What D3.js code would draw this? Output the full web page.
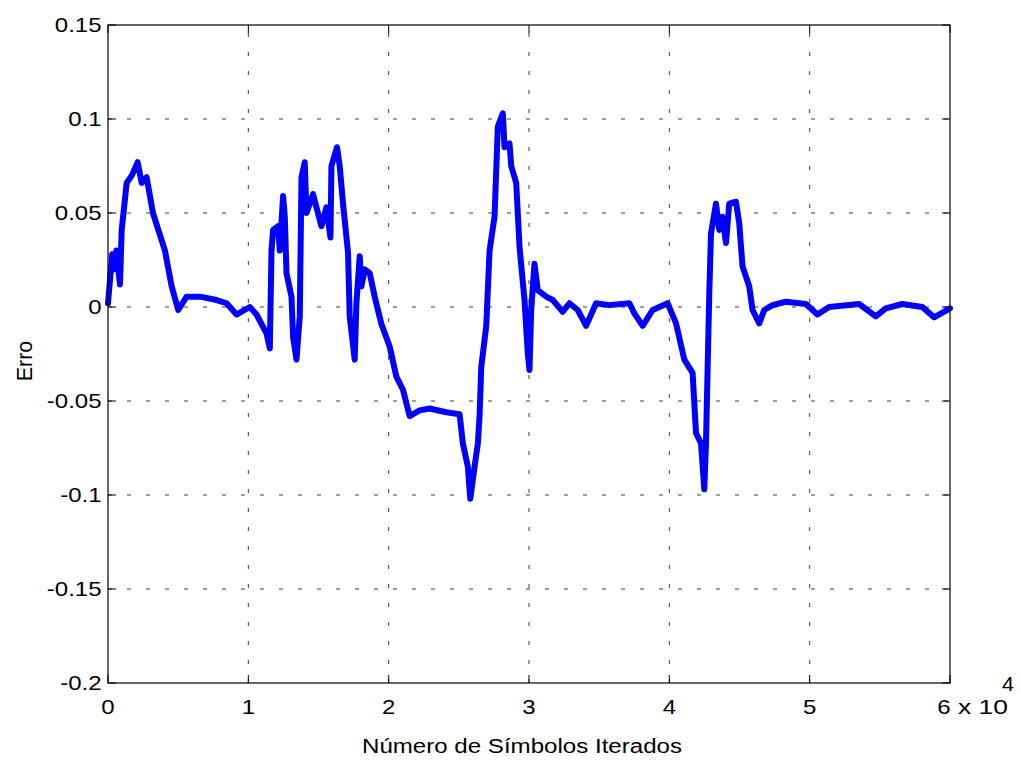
<!DOCTYPE html>
<html>
<head>
<meta charset="utf-8">
<script src="https://cdn.jsdelivr.net/npm/d3@7"></script>
<style>
  html, body { margin: 0; padding: 0; background: #fff; }
  svg { display: block; }
  text { font-family: "Liberation Sans", Arial, sans-serif; fill: #000; }
</style>
</head>
<body>
<svg id="chart" width="1021" height="762"></svg>
<script>
// Error curve of the adaptive equalizer versus iterated symbols
const iterations = [
  0, 150, 300, 450, 600, 854, 975, 1331, 1700, 2114, 2399, 2754, 3203, 4057, 4534, 5004,
  5601, 6548, 7737, 8448, 9160, 10107, 10584, 11295, 11530, 11651, 11765, 12121, 12242,
  12477, 12598, 12719, 13075, 13189, 13431, 13665, 13787, 14021, 14142, 14612, 14854,
  15210, 15566, 15850, 15922, 16320, 16512, 16747, 17103, 17224, 17580, 17701, 17936,
  18057, 18292, 18648, 19004, 19481, 20071, 20548, 21018, 21495, 22206, 22918, 24107,
  25053, 25288, 25644, 25815, 26121, 26356, 26477, 26598, 26954, 27189, 27544, 27779,
  28135, 28256, 28612, 28733, 29089, 29324, 29680, 29915, 30036, 30157, 30391, 30626,
  31224, 31694, 32406, 32883, 33473, 34071, 34783, 35730, 37153, 37509, 38100, 38811,
  39879, 40477, 41068, 41658, 41900, 42256, 42491, 42612, 42726, 42847, 42968, 43324,
  43559, 43794, 44036, 44270, 44747, 44982, 45217, 45694, 45929, 46406, 46762, 47352,
  48306, 49253, 49730, 50555, 51388, 53523, 54712, 55423, 56605, 58028, 58861, 60000
];
const erro = [
  0.002, 0.015, 0.028, 0.020, 0.030, 0.012, 0.041, 0.066, 0.070, 0.077, 0.066, 0.069, 0.050, 0.030, 0.011, -0.0016,
  0.0055, 0.0055, 0.0037, 0.002, -0.004, 0.0, -0.004, -0.014, -0.022, 0.030, 0.041, 0.043, 0.030,
  0.059, 0.048, 0.018, 0.0055, -0.016, -0.028, -0.005, 0.069, 0.077, 0.050, 0.060, 0.053,
  0.043, 0.053, 0.037, 0.075, 0.085, 0.075, 0.055, 0.029, -0.005, -0.028, 0.002, 0.027,
  0.011, 0.020, 0.018, 0.0055, -0.009, -0.021, -0.037, -0.044, -0.058, -0.055, -0.054, -0.056,
  -0.057, -0.0725, -0.085, -0.102, -0.085, -0.0725, -0.058, -0.032, -0.010, 0.030, 0.048, 0.096,
  0.103, 0.085, 0.087, 0.075, 0.066, 0.032, 0.0037, -0.025, -0.0335, -0.0016, 0.023, 0.009,
  0.0055, 0.0037, -0.0025, 0.002, -0.0016, -0.010, 0.002, 0.001, 0.002, -0.0034, -0.010, -0.0016,
  0.002, -0.0087, -0.028, -0.035, -0.067, -0.0725, -0.097, -0.0725, -0.0335, 0.0073, 0.039, 0.055,
  0.041, 0.048, 0.034, 0.055, 0.056, 0.0445, 0.0215, 0.011, -0.0016, -0.0087, -0.0016, 0.001,
  0.0028, 0.002, 0.0016, -0.004, 0.0, 0.0016, -0.005, -0.0007, 0.0016, 0.0, -0.0055, -0.0007
];

const xTicks = [0, 1, 2, 3, 4, 5, 6];          // in units of 10^4 symbols
const xTickLabels = ["0", "1", "2", "3", "4", "5", "6"];
const yTicks = [-0.2, -0.15, -0.1, -0.05, 0, 0.05, 0.1, 0.15];
const yTickLabels = ["-0.2", "-0.15", "-0.1", "-0.05", "0", "0.05", "0.1", "0.15"];
const xLabel = "Número de Símbolos Iterados";
const yLabel = "Erro";
const xExponent = "4";

const plotLeft = 108, plotTop = 25, plotRight = 950, plotBottom = 683;
const svg = d3.select("#chart");

const x = d3.scaleLinear().domain([0, 6]).range([plotLeft, plotRight]);
const y = d3.scaleLinear().domain([-0.2, 0.15]).range([plotBottom, plotTop]);
const stretch = 1.2;   // wide glyphs for tick labels

// dotted grid
const grid = svg.append("g")
  .attr("stroke", "#000").attr("stroke-width", 1)
  .attr("stroke-dasharray", "4,15").attr("opacity", 0.75);
grid.selectAll("line.gx").data(xTicks.slice(1, -1)).join("line")
  .attr("class", "gx")
  .attr("x1", d => x(d)).attr("x2", d => x(d))
  .attr("y1", plotBottom).attr("y2", plotTop);
grid.selectAll("line.gy").data(yTicks.slice(1, -1)).join("line")
  .attr("class", "gy")
  .attr("y1", d => y(d)).attr("y2", d => y(d))
  .attr("x1", plotLeft).attr("x2", plotRight);

// inward tick marks on all four sides
const tickLen = 8;
const ticks = svg.append("g").attr("stroke", "#000").attr("stroke-width", 1);
xTicks.forEach(v => {
  ticks.append("line").attr("x1", x(v)).attr("x2", x(v)).attr("y1", plotBottom).attr("y2", plotBottom - tickLen);
  ticks.append("line").attr("x1", x(v)).attr("x2", x(v)).attr("y1", plotTop).attr("y2", plotTop + tickLen);
});
yTicks.forEach(v => {
  ticks.append("line").attr("y1", y(v)).attr("y2", y(v)).attr("x1", plotLeft).attr("x2", plotLeft + tickLen);
  ticks.append("line").attr("y1", y(v)).attr("y2", y(v)).attr("x1", plotRight).attr("x2", plotRight - tickLen);
});

// the error curve
const pts = iterations.map((it, i) => [it / 1e4, erro[i]]);
svg.append("path")
  .datum(pts)
  .attr("fill", "none")
  .attr("stroke", "#0000ff")
  .attr("stroke-width", 6)
  .attr("stroke-linejoin", "round")
  .attr("stroke-linecap", "round")
  .attr("d", d3.line().x(d => x(d[0])).y(d => y(d[1])));

// axes box
svg.append("rect")
  .attr("x", plotLeft).attr("y", plotTop)
  .attr("width", plotRight - plotLeft).attr("height", plotBottom - plotTop)
  .attr("fill", "none").attr("stroke", "#000").attr("stroke-width", 1.2);

// y tick labels
svg.append("g").selectAll("text").data(yTicks).join("text")
  .attr("transform", d => `translate(101.5,${y(d) + 7}) scale(${stretch},1)`)
  .attr("text-anchor", "end")
  .attr("font-size", 20)
  .text((d, i) => yTickLabels[i]);

// x tick labels (the last one sits a little left to make room for the multiplier)
svg.append("g").selectAll("text").data(xTicks).join("text")
  .attr("transform", (d, i) => `translate(${x(d) + (i === xTicks.length - 1 ? -6 : 0)},714) scale(${stretch},1)`)
  .attr("text-anchor", "middle")
  .attr("font-size", 20)
  .text((d, i) => xTickLabels[i]);

// x 10^4 multiplier
svg.append("text")
  .attr("x", 958).attr("y", 714)
  .attr("font-size", 20)
  .attr("textLength", 50).attr("lengthAdjust", "spacingAndGlyphs")
  .text("x 10");
svg.append("text")
  .attr("x", 1002).attr("y", 691)
  .attr("font-size", 20)
  .attr("textLength", 12).attr("lengthAdjust", "spacingAndGlyphs")
  .text(xExponent);

// axis titles
svg.append("text")
  .attr("x", 522).attr("y", 753)
  .attr("text-anchor", "middle")
  .attr("font-size", 20)
  .attr("textLength", 320).attr("lengthAdjust", "spacingAndGlyphs")
  .text(xLabel);

svg.append("text")
  .attr("transform", "translate(31.5,361) rotate(-90)")
  .attr("text-anchor", "middle")
  .attr("font-size", 21.5)
  .text(yLabel);
</script>
</body>
</html>
